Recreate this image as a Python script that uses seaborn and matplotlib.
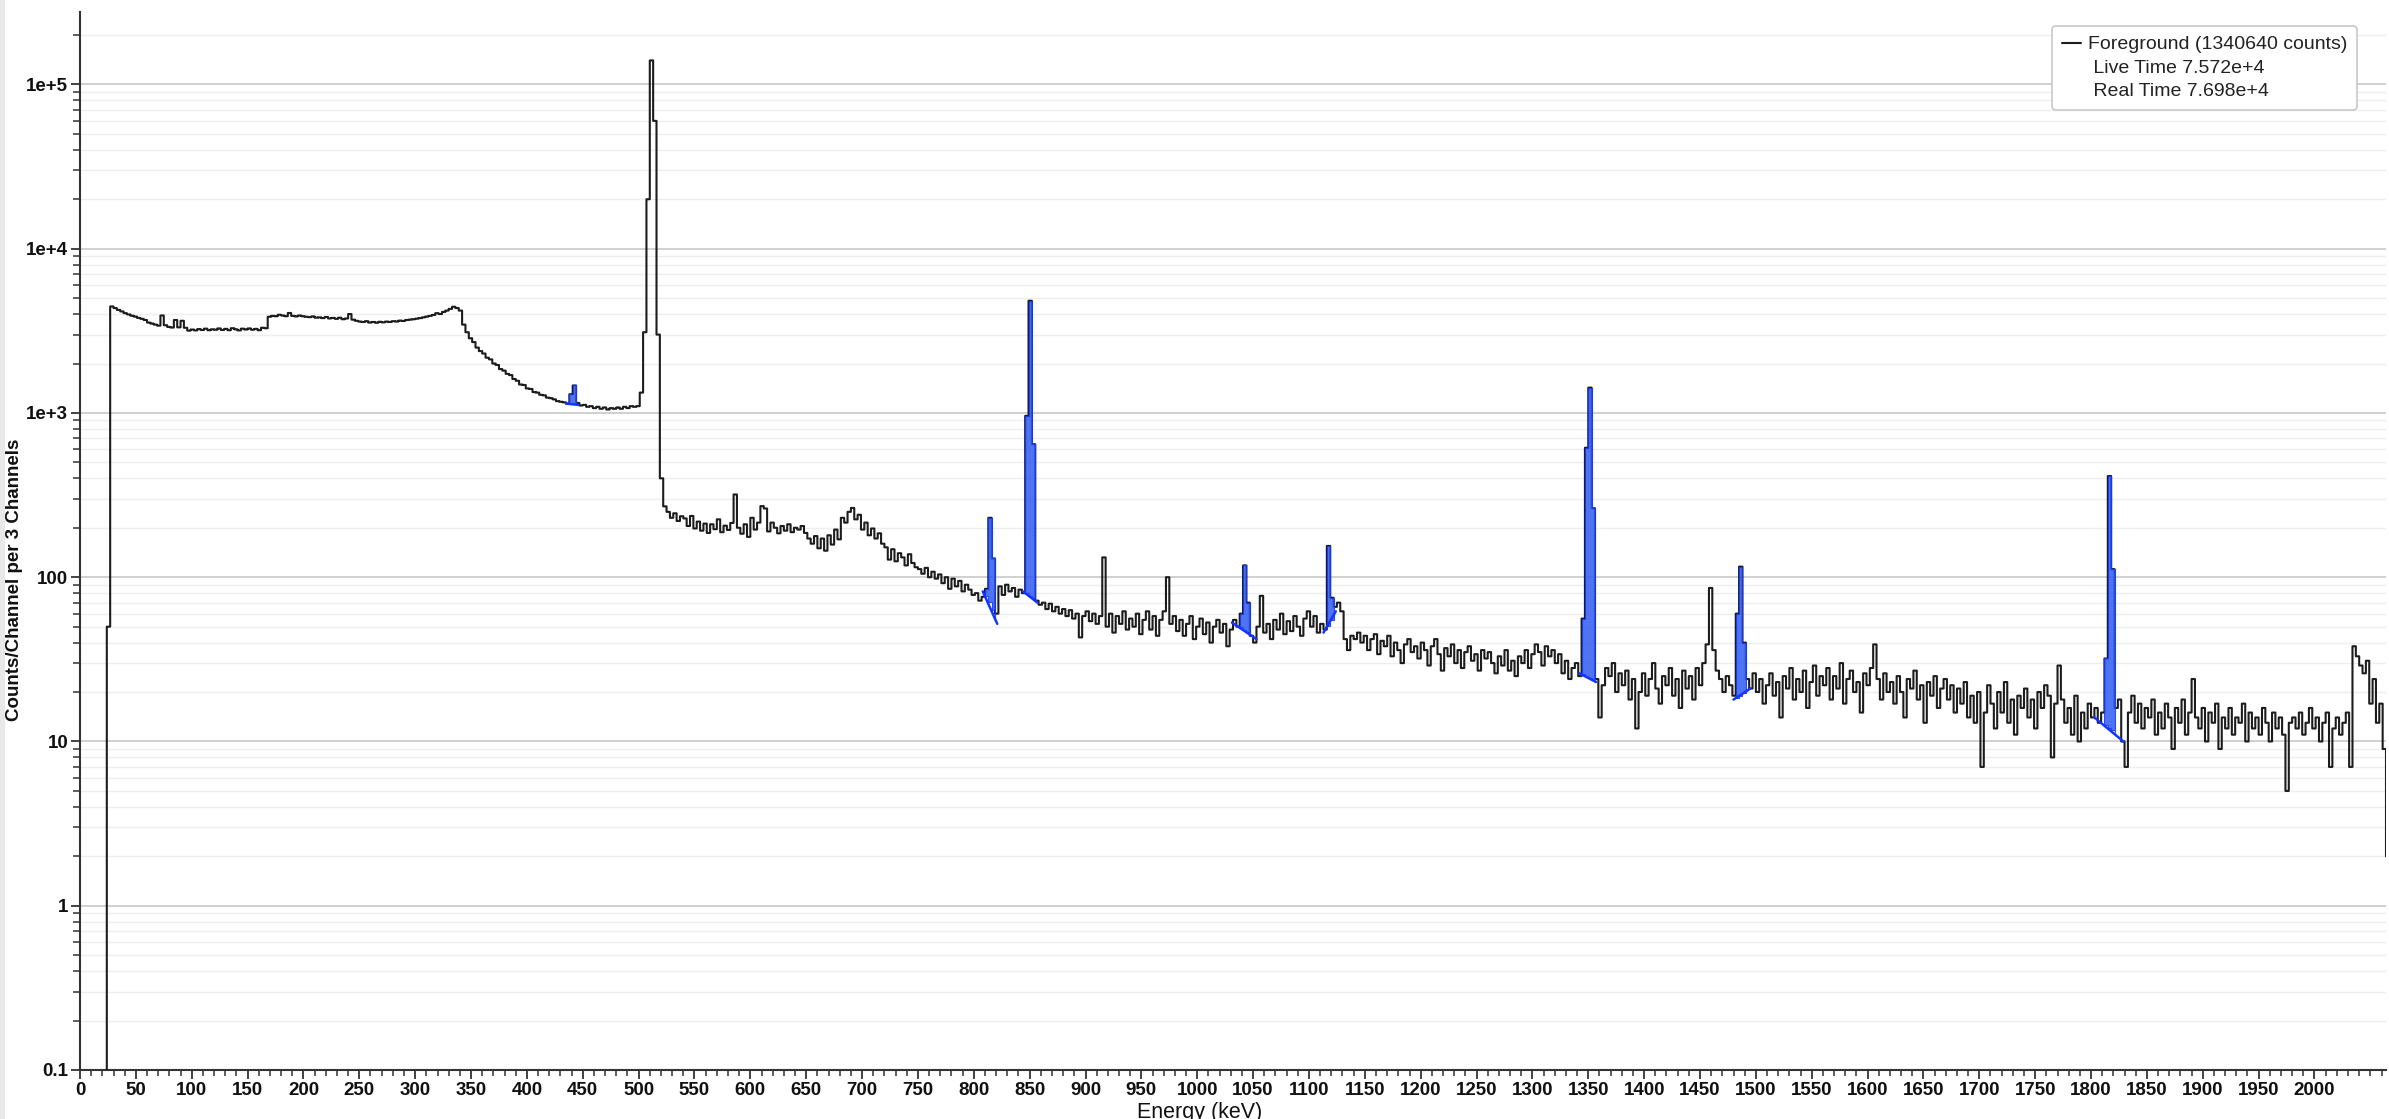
import numpy as np
import pandas as pd
import matplotlib
matplotlib.use("Agg")
import matplotlib.pyplot as plt
import seaborn as sns
from matplotlib.ticker import (MultipleLocator, FixedLocator, FixedFormatter,
                               LogLocator, NullFormatter)
from matplotlib.lines import Line2D
from matplotlib.patches import Rectangle

# ---------------- data (counts per 3 keV bin) ----------------
BIN_KEV = 3
c_0000 = [0.05, 0.05, 0.05, 0.05, 0.05, 0.05, 0.05, 0.05, 50, 4450, 4350, 4240, 4150, 4050, 3980, 3910, 3860, 3790, 3740, 3680]
c_0060 = [3550, 3500, 3450, 3400, 3920, 3420, 3340, 3310, 3680, 3320, 3640, 3300, 3170, 3220, 3180, 3240, 3200, 3260, 3190, 3230]
c_0120 = [3210, 3270, 3200, 3250, 3190, 3280, 3230, 3180, 3260, 3220, 3270, 3210, 3250, 3190, 3300, 3280, 3850, 3900, 3880, 3960]
c_0180 = [3920, 3880, 4060, 3900, 3870, 3920, 3880, 3850, 3830, 3870, 3800, 3820, 3780, 3840, 3760, 3790, 3740, 3800, 3720, 3760]
c_0240 = [4000, 3700, 3640, 3600, 3580, 3620, 3550, 3580, 3540, 3590, 3560, 3600, 3580, 3620, 3600, 3650, 3630, 3680, 3700, 3720]
c_0300 = [3750, 3780, 3820, 3860, 3900, 3950, 4050, 4000, 4120, 4200, 4300, 4430, 4350, 4200, 3450, 3100, 2850, 2700, 2500, 2380]
c_0360 = [2300, 2170, 2120, 2000, 1960, 1850, 1810, 1730, 1700, 1610, 1570, 1490, 1480, 1410, 1400, 1340, 1330, 1290, 1280, 1240]
c_0420 = [1230, 1210, 1180, 1170, 1160, 1140, 1300, 1470, 1150, 1110, 1120, 1090, 1100, 1070, 1090, 1060, 1080, 1050, 1070, 1060]
c_0480 = [1080, 1060, 1090, 1070, 1100, 1090, 1100, 1330, 3100, 20000, 140000, 60000, 3000, 400, 270, 250, 230, 245, 220, 235]
c_0540 = [228, 205, 236, 198, 218, 192, 212, 186, 210, 196, 225, 188, 206, 194, 214, 319, 200, 184, 210, 176]
c_0600 = [230, 195, 215, 271, 262, 190, 215, 200, 185, 205, 192, 210, 188, 200, 195, 205, 186, 172, 160, 178]
c_0660 = [150, 172, 145, 180, 158, 195, 170, 230, 215, 250, 264, 225, 240, 195, 215, 180, 198, 172, 185, 160]
c_0720 = [152, 128, 148, 125, 140, 132, 118, 138, 122, 115, 112, 105, 114, 100, 108, 98, 104, 92, 100, 85]
c_0780 = [98, 88, 95, 82, 90, 84, 78, 80, 72, 76, 85, 230, 130, 60, 88, 78, 90, 82, 86, 76]
c_0840 = [84, 80, 960, 4820, 645, 72, 68, 70, 64, 69, 62, 66, 60, 64, 58, 63, 56, 60, 43, 58]
c_0900 = [62, 54, 60, 52, 58, 132, 50, 60, 46, 58, 52, 62, 48, 56, 50, 60, 45, 55, 62, 48]
c_0960 = [58, 44, 55, 62, 100, 52, 58, 47, 55, 44, 52, 58, 42, 50, 56, 45, 53, 40, 50, 55]
c_1020 = [46, 52, 38, 48, 55, 50, 60, 118, 70, 44, 40, 50, 77, 46, 52, 42, 55, 48, 60, 45]
c_1080 = [54, 47, 58, 50, 44, 56, 62, 50, 58, 46, 52, 48, 155, 75, 66, 70, 62, 42, 36, 44]
c_1140 = [42, 46, 40, 44, 36, 42, 45, 34, 41, 38, 44, 33, 40, 36, 30, 39, 42, 35, 38, 32]
c_1200 = [40, 36, 29, 38, 42, 34, 27, 37, 33, 39, 30, 36, 28, 35, 38, 31, 34, 27, 36, 32]
c_1260 = [35, 30, 26, 33, 29, 36, 27, 31, 25, 33, 30, 36, 28, 34, 39, 35, 29, 38, 33, 36]
c_1320 = [30, 34, 26, 31, 24, 28, 30, 25, 56, 614, 1426, 263, 24, 14, 22, 28, 25, 30, 20, 26]
c_1380 = [22, 27, 18, 24, 12, 20, 26, 19, 24, 30, 21, 17, 25, 22, 28, 19, 24, 16, 27, 21]
c_1440 = [25, 18, 28, 22, 30, 39, 86, 36, 27, 24, 20, 25, 22, 19, 60, 116, 40, 24, 21, 26]
c_1500 = [20, 24, 17, 22, 26, 19, 23, 14, 25, 21, 28, 18, 24, 20, 27, 16, 23, 29, 19, 25]
c_1560 = [22, 28, 18, 25, 21, 30, 17, 24, 27, 20, 23, 15, 26, 22, 28, 39, 24, 18, 26, 20]
c_1620 = [23, 17, 25, 20, 14, 24, 21, 27, 18, 22, 13, 23, 19, 25, 16, 21, 24, 18, 22, 15]
c_1680 = [21, 17, 23, 14, 19, 13, 20, 7, 15, 22, 17, 12, 20, 15, 23, 13, 18, 11, 19, 16]
c_1740 = [21, 14, 18, 12, 20, 16, 22, 19, 8, 17, 29, 18, 13, 16, 11, 19, 10, 15, 12, 17]
c_1800 = [14, 16, 13, 15, 32, 413, 112, 16, 18, 10, 7, 15, 19, 13, 17, 12, 16, 14, 18, 11]
c_1860 = [15, 12, 17, 14, 9, 16, 13, 18, 11, 15, 24, 14, 12, 16, 10, 15, 13, 17, 9, 14]
c_1920 = [12, 16, 11, 14, 13, 17, 10, 15, 12, 14, 11, 16, 13, 10, 15, 12, 14, 11, 5, 13]
c_1980 = [14, 12, 15, 11, 13, 16, 12, 14, 10, 13, 15, 7, 12, 14, 11, 13, 15, 7, 38, 33]
c_2040 = [29, 26, 31, 17, 24, 13, 17, 9, 2]

# fitted peaks (blue): data window and linear continuum under each peak
peak_lo = [438, 810, 846, 1038, 1116, 1344, 1482, 1812]
peak_hi = [444, 819, 855, 1047, 1122, 1356, 1491, 1821]
base_e0 = [435, 808, 844, 1031, 1113, 1342, 1480, 1803]
base_e1 = [446, 821, 857, 1053, 1124, 1357, 1495, 1829]
base_c0 = [1140, 82, 82, 53, 46, 26, 18, 14]
base_c1 = [1120, 52, 70, 42, 62, 23, 21, 10]

y_tick_values = [0.1, 1, 10, 100, 1e3, 1e4, 1e5]
y_tick_labels = ["0.1", "1", "10", "100", "1e+3", "1e+4", "1e+5"]
legend_labels = ["Foreground (1340640 counts)", " Live Time 7.572e+4", " Real Time 7.698e+4"]
x_label = "Energy (keV)"
y_label = "Counts/Channel per 3 Channels"

counts = np.array(c_0000 + c_0060 + c_0120 + c_0180 + c_0240 + c_0300 + c_0360 + c_0420 +
                  c_0480 + c_0540 + c_0600 + c_0660 + c_0720 + c_0780 + c_0840 + c_0900 +
                  c_0960 + c_1020 + c_1080 + c_1140 + c_1200 + c_1260 + c_1320 + c_1380 +
                  c_1440 + c_1500 + c_1560 + c_1620 + c_1680 + c_1740 + c_1800 + c_1860 +
                  c_1920 + c_1980 + c_2040, dtype=float)
energy = BIN_KEV * np.arange(len(counts))
df = pd.DataFrame({"energy": energy, "counts": counts})

# ---------------- figure ----------------
sns.set_theme(style="white")
plt.rcParams["font.family"] = ["Liberation Sans", "DejaVu Sans"]

W, H = 2389, 1119
fig = plt.figure(figsize=(W / 100, H / 100), dpi=100)
fig.add_artist(Rectangle((0, 0), 5 / W, 1, transform=fig.transFigure,
                         facecolor="#e8e8e8", edgecolor="none", zorder=0))
ax = fig.add_axes([80 / W, (H - 1070) / H, (2386 - 80) / W, (1070 - 12) / H])

sns.lineplot(data=df, x="energy", y="counts", ax=ax, drawstyle="steps-post",
             color="#1c1c1c", linewidth=1.5, estimator=None, sort=False, zorder=3)
ax.set_yscale("log")
ax.set_xlim(0, 2064)
ax.set_ylim(0.1, 2.76e5)

for lo, hi, e0, e1, c0, c1 in zip(peak_lo, peak_hi, base_e0, base_e1, base_c0, base_c1):
    m = (energy >= lo) & (energy <= hi)
    xs = energy[m]
    ys = counts[m]
    base = np.interp(xs, [e0, e1], [c0, c1])
    ax.fill_between(xs, base, ys, step="post", facecolor="#2f5bf2", alpha=0.85,
                    edgecolor="#1336ff", linewidth=0.8, zorder=4)
    ax.plot([e0, e1], [c0, c1], color="#1336ff", linewidth=1.8, zorder=4)

# grid
ax.set_axisbelow(True)
ax.yaxis.grid(True, which="major", color="#cdcdcd", linewidth=1.3)
ax.yaxis.grid(True, which="minor", color="#eeeeee", linewidth=1.0)
ax.xaxis.grid(False)

# ticks
ax.yaxis.set_major_locator(FixedLocator(y_tick_values))
ax.yaxis.set_major_formatter(FixedFormatter(y_tick_labels))
ax.yaxis.set_minor_locator(LogLocator(base=10, subs=np.arange(2, 10)))
ax.yaxis.set_minor_formatter(NullFormatter())
ax.xaxis.set_major_locator(FixedLocator(np.arange(0, 2001, 50)))
ax.xaxis.set_minor_locator(MultipleLocator(10))
ax.tick_params(axis="both", which="both", bottom=True, left=True, direction="out",
               color="#333333")
ax.tick_params(axis="both", which="major", length=6.5, width=1.3, labelsize=13.5,
               pad=2, labelcolor="#111111")
ax.tick_params(axis="y", which="minor", length=5, width=1.1)
ax.tick_params(axis="x", which="minor", length=4, width=1.1)
for lbl in ax.get_xticklabels() + ax.get_yticklabels():
    lbl.set_fontweight("bold")

sns.despine(ax=ax)
for s in ("left", "bottom"):
    ax.spines[s].set_color("#333333")
    ax.spines[s].set_linewidth(1.5)
ax.set_xlabel("")
ax.set_ylabel("")

fig.text(1200 / W, 1 - 1102 / H, x_label, ha="center", va="top", fontsize=15.5,
         color="#111111")
fig.text(15 / W, 1 - 580 / H, y_label, ha="center", va="center", rotation=90,
         fontsize=13.5, fontweight="bold", color="#111111")

handles = [Line2D([], [], color="#1c1c1c", linewidth=1.5),
           Line2D([], [], color="none"), Line2D([], [], color="none")]
leg = ax.legend(handles, legend_labels, loc="upper left",
                bbox_to_anchor=(2052 / W, 1 - 26 / H), bbox_transform=fig.transFigure,
                fontsize=14, frameon=True, fancybox=True, framealpha=1,
                edgecolor="#c8c8c8", facecolor="white", handlelength=1.0,
                handletextpad=0.35, labelspacing=0.3, borderpad=0.5,
                borderaxespad=0)
leg.get_frame().set_linewidth(1.2)
for t in leg.get_texts():
    t.set_color("#222222")

fig.savefig("out.png", dpi=100)
